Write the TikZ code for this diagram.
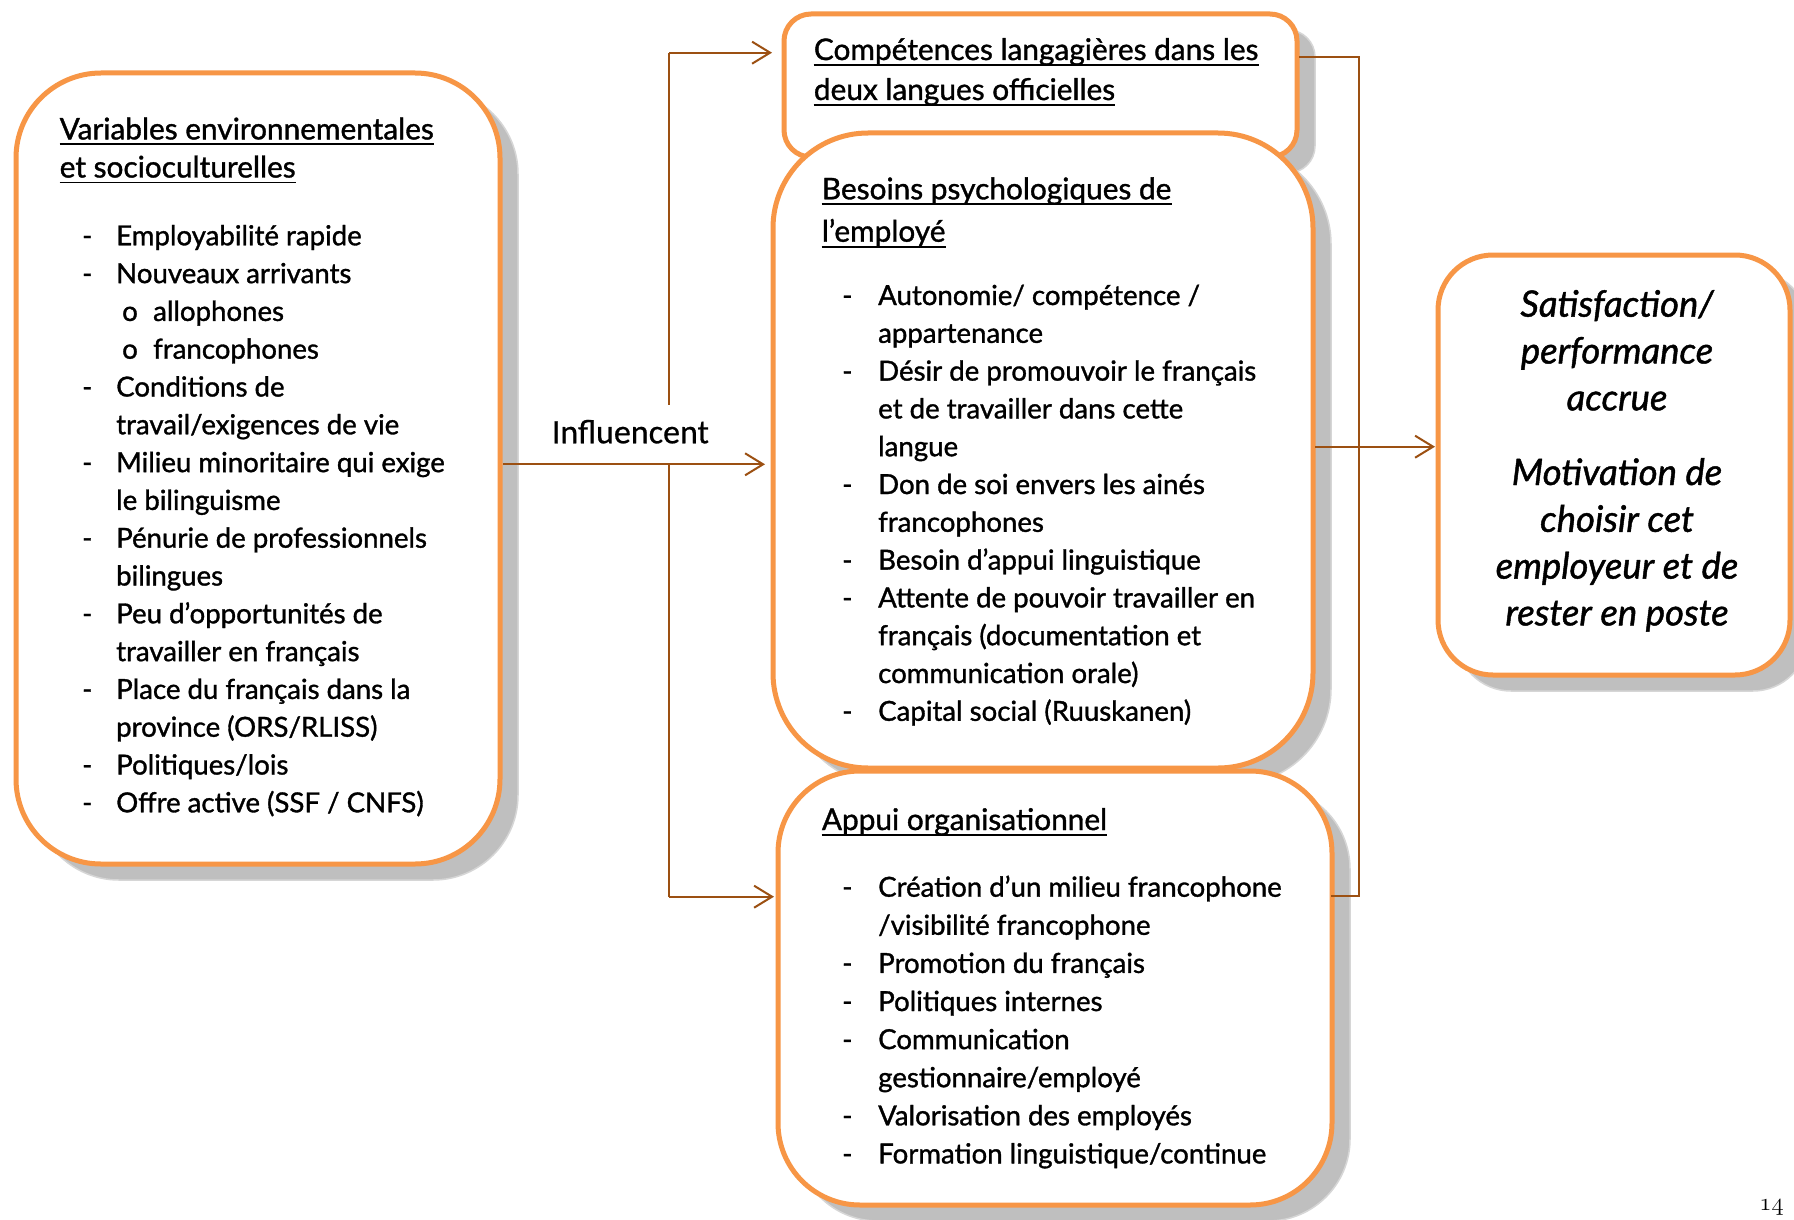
\documentclass[tikz,border=0pt]{standalone}
\usepackage{fontspec}
\newfontfamily\mainface[FakeBold=1.2]{Lato}
\newfontfamily\calface[FakeBold=0.6]{Carlito}
\usetikzlibrary{arrows.meta,shadows,calc}

\definecolor{boxorange}{HTML}{F79646}
\definecolor{linkbrown}{HTML}{9C5012}
\definecolor{shadowgray}{HTML}{BFBFBF}
\definecolor{shadowedge}{HTML}{D6D6D6}

\newcommand\itemsize{\fontsize{27.6pt}{30pt}\selectfont}
\newcommand\headsize{\fontsize{29.8pt}{34pt}\selectfont}
\newcommand\satsize{\fontsize{36.5pt}{40pt}\selectfont}
% bullet with a hanging label of fixed width
\newcommand\bul[2][34pt]{\makebox[#1][l]{-}#2}
\newcommand\subbul[1]{\makebox[31pt][l]{o}#1}

\tikzset{
  panel/.style={draw=boxorange, line width=5pt, fill=white, inner sep=0pt,
    outer sep=0pt, rounded corners=#1,
    general shadow={shadow xshift=18pt, shadow yshift=-16pt,
      fill=shadowgray, draw=shadowedge, line width=1.5pt}},
  itemline/.style={anchor=base west, inner sep=0pt, font=\mainface\itemsize},
  headline/.style={anchor=base west, inner sep=0pt, font=\mainface\headsize},
  satline/.style={anchor=base, inner sep=0pt, font=\mainface\itshape\satsize},
  uline/.style={draw=black, line width=1.8pt},
  link/.style={draw=linkbrown, line width=2pt},
  flow/.style={link, -{Straight Barb[length=18pt,width=22pt]}},
}

\begin{document}
\begin{tikzpicture}[x=1pt,y=-1pt]
\useasboundingbox (0,0) rectangle (1794,1220);
\fill[white] (0,0) rectangle (1794,1220);

% ---------- panels ----------
\node[panel=85pt, minimum width=484pt, minimum height=791pt] (env) at (258,468.5) {};
\node[panel=27pt, minimum width=513pt, minimum height=143pt] (comp) at (1040.5,85.5) {};
\node[panel=95pt, minimum width=540pt, minimum height=635pt] (besoins) at (1043,450.5) {};
\node[panel=82pt, minimum width=554pt, minimum height=434pt] (appui) at (1055,988) {};
\node[panel=55pt, minimum width=352pt, minimum height=420pt] (sat) at (1614,465) {};

% ---------- environmental variables ----------
\node[headline] (env-h1) at (59.5,139.4) {Variables environnementales};
\node[headline] (env-h2) at (59.5,177.5) {et socioculturelles};
\draw[uline] ([yshift=-5pt]env-h1.base west) -- ([yshift=-5pt]env-h1.base east);
\draw[uline] ([yshift=-5pt]env-h2.base west) -- ([yshift=-5pt]env-h2.base east);

\node[itemline] (env-1)  at (82,245.3)  {\bul{Employabilité rapide}};
\node[itemline] (env-2)  at (82,283.1)  {\bul{Nouveaux arrivants}};
\node[itemline] (env-3)  at (122,320.9) {\subbul{allophones}};
\node[itemline] (env-4)  at (122,358.7) {\subbul{francophones}};
\node[itemline] (env-5)  at (82,396.5)  {\bul{Conditions de}};
\node[itemline] (env-6)  at (116,434.3) {travail/exigences de vie};
\node[itemline] (env-7)  at (82,472.1)  {\bul{Milieu minoritaire qui exige}};
\node[itemline] (env-8)  at (116,509.9) {le bilinguisme};
\node[itemline] (env-9)  at (82,547.7)  {\bul{Pénurie de professionnels}};
\node[itemline] (env-10) at (116,585.5) {bilingues};
\node[itemline] (env-11) at (82,623.3)  {\bul{Peu d’opportunités de}};
\node[itemline] (env-12) at (116,661.1) {travailler en français};
\node[itemline] (env-13) at (82,698.9)  {\bul{Place du français dans la}};
\node[itemline] (env-14) at (116,736.7) {province (ORS/RLISS)};
\node[itemline] (env-15) at (82,774.5)  {\bul{Politiques/lois}};
\node[itemline] (env-16) at (82,812.3)  {\bul{Offre active (SSF / CNFS)}};

% ---------- language skills ----------
\node[headline] (comp-h1) at (813.7,60) {Compétences langagières dans les};
\node[headline] (comp-h2) at (813.7,100) {deux langues officielles};
\draw[uline] ([yshift=-5pt]comp-h1.base west) -- ([yshift=-5pt]comp-h1.base east);
\draw[uline] ([yshift=-5pt]comp-h2.base west) -- ([yshift=-5pt]comp-h2.base east);

% ---------- psychological needs ----------
\node[headline] (bes-h1) at (821.7,199.3) {Besoins psychologiques de};
\node[headline] (bes-h2) at (821.7,241.7) {l’employé};
\draw[uline] ([yshift=-5pt]bes-h1.base west) -- ([yshift=-5pt]bes-h1.base east);
\draw[uline] ([yshift=-5pt]bes-h2.base west) -- ([yshift=-5pt]bes-h2.base east);

\node[itemline] (bes-1)  at (842,305)   {\bul[36pt]{Autonomie/ compétence /}};
\node[itemline] (bes-2)  at (878,342.8) {appartenance};
\node[itemline] (bes-3)  at (842,380.6) {\bul[36pt]{Désir de promouvoir le français}};
\node[itemline] (bes-4)  at (878,418.4) {et de travailler dans cette};
\node[itemline] (bes-5)  at (878,456.2) {langue};
\node[itemline] (bes-6)  at (842,494)   {\bul[36pt]{Don de soi envers les ainés}};
\node[itemline] (bes-7)  at (878,531.8) {francophones};
\node[itemline] (bes-8)  at (842,569.6) {\bul[36pt]{Besoin d’appui linguistique}};
\node[itemline] (bes-9)  at (842,607.4) {\bul[36pt]{Attente de pouvoir travailler en}};
\node[itemline] (bes-10) at (878,645.2) {français (documentation et};
\node[itemline] (bes-11) at (878,683)   {communication orale)};
\node[itemline] (bes-12) at (842,720.8) {\bul[36pt]{Capital social (Ruuskanen)}};

% ---------- organisational support ----------
\node[headline] (app-h1) at (821.7,830) {Appui organisationnel};
\draw[uline] ([yshift=-5pt]app-h1.base west) -- ([yshift=-5pt]app-h1.base east);

\node[itemline] (app-1) at (842,896.7)  {\bul[36pt]{Création d’un milieu francophone}};
\node[itemline] (app-2) at (878,934.8)  {/visibilité francophone};
\node[itemline] (app-3) at (842,972.9)  {\bul[36pt]{Promotion du français}};
\node[itemline] (app-4) at (842,1011)   {\bul[36pt]{Politiques internes}};
\node[itemline] (app-5) at (842,1049.1) {\bul[36pt]{Communication}};
\node[itemline] (app-6) at (878,1087.2) {gestionnaire/employé};
\node[itemline] (app-7) at (842,1125.3) {\bul[36pt]{Valorisation des employés}};
\node[itemline] (app-8) at (842,1163.4) {\bul[36pt]{Formation linguistique/continue}};

% ---------- outcome ----------
\node[satline] (sat-1) at (1617,316.7) {Satisfaction/};
\node[satline] (sat-2) at (1617,363.5) {performance};
\node[satline] (sat-3) at (1617,410.3) {accrue};
\node[satline] (sat-4) at (1617,485)   {Motivation de};
\node[satline] (sat-5) at (1617,531.8) {choisir cet};
\node[satline] (sat-6) at (1617,578.6) {employeur et de};
\node[satline] (sat-7) at (1617,625.4) {rester en poste};

% ---------- label on the trunk ----------
\node[anchor=base, inner xsep=0pt, inner ysep=15pt,
      font=\calface\fontsize{34pt}{40pt}\selectfont] (infl) at (630.4,443.3) {Influencent};

% ---------- connectors ----------
\coordinate (hub)  at (669,464.3);
\coordinate (topc) at (669,52.7);
\coordinate (botc) at (669,896.7);
\coordinate (rtop) at (1359,56.7);
\coordinate (rbot) at (1359,896);
\coordinate (satin) at ($(sat.west)+(0,-18.3)$);

\draw[link] (topc) -- (infl.north -| topc);
\draw[link] (hub) -- (botc);
\draw[flow, shorten <=3pt, shorten >=8pt] (env.east |- hub) -- (besoins.west |- hub);
\draw[flow, shorten >=12pt] (topc) -- (comp.west |- topc);
\draw[flow, shorten >=4pt] (botc) -- (appui.west |- botc);
\draw[link, shorten <=2pt, shorten >=-1pt] (comp.east |- rtop) -- (rtop) -- (rbot) -- (appui.east |- rbot);
\draw[flow, shorten <=2pt, shorten >=3pt] (besoins.east |- satin) -- (satin);

% ---------- page number ----------
\node[anchor=base east, inner sep=0pt,
      font={\fontencoding{OML}\fontfamily{lmm}\fontseries{b}\fontshape{it}\fontsize{34pt}{36pt}\selectfont}]
      (pageno) at (1784,1210) {14};
\end{tikzpicture}
\end{document}
